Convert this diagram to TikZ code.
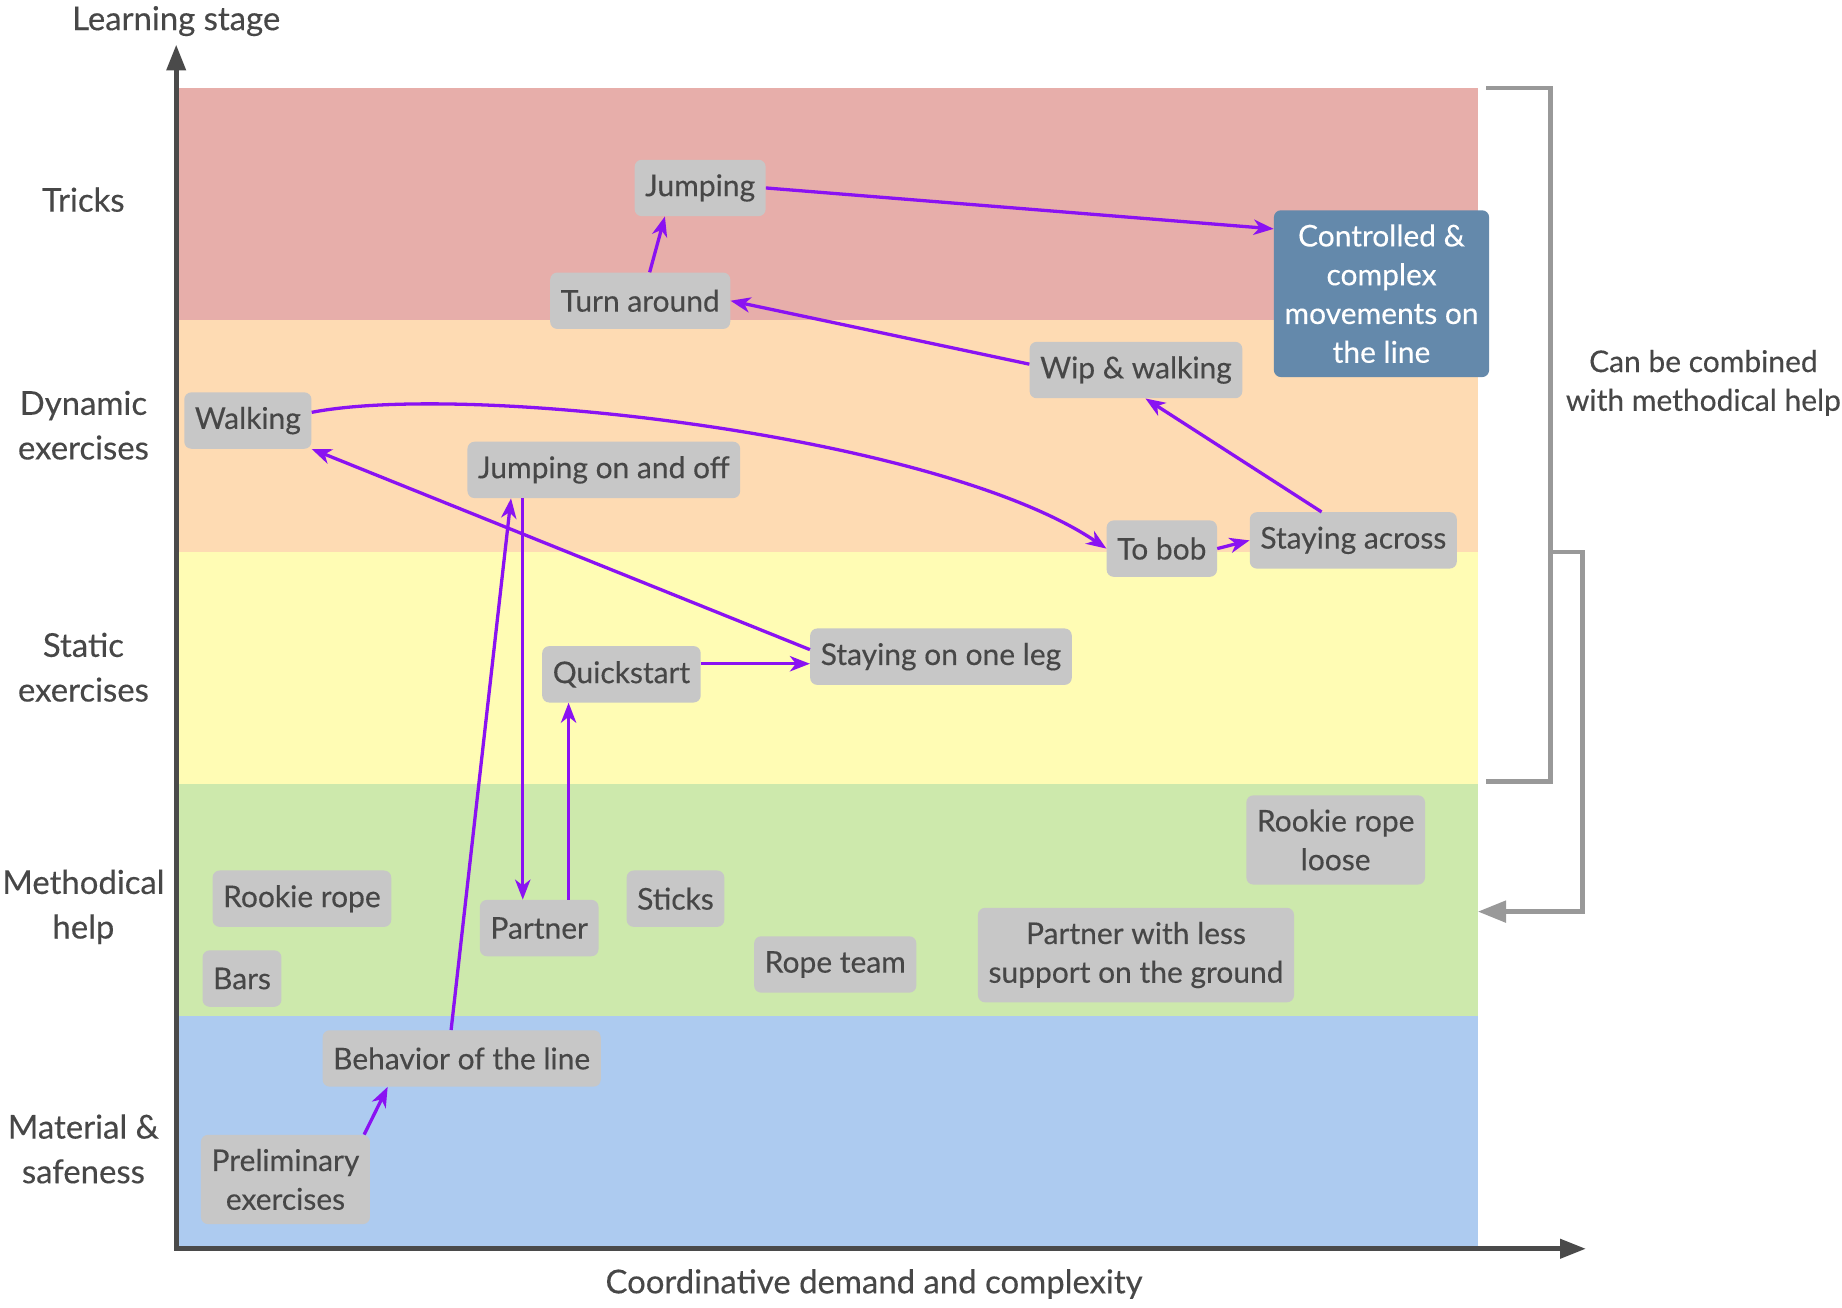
\documentclass[tikz,border=0pt]{standalone}
\usepackage{fontspec}
\setmainfont{Lato}[FakeBold=0.3]
\usetikzlibrary{arrows.meta}

\definecolor{textgray}{HTML}{474747}
\definecolor{boxgray}{HTML}{C7C7C7}
\definecolor{goalblue}{HTML}{6489AB}
\definecolor{flowpurple}{HTML}{8A12F2}
\definecolor{axisgray}{HTML}{4A4A4A}
\definecolor{bracketgray}{HTML}{999999}
\definecolor{bandred}{HTML}{E7AEAA}
\definecolor{bandpeach}{HTML}{FEDBB3}
\definecolor{bandyellow}{HTML}{FFFCB4}
\definecolor{bandgreen}{HTML}{CDE9AC}
\definecolor{bandblue}{HTML}{ADCBF0}

\begin{document}
\begin{tikzpicture}[x=1pt, y=-1pt,
            every node/.style={text=textgray, font=\fontsize{25.5}{33}\selectfont},
            stage/.style={fill=boxgray, rounded corners=6pt, align=center,
                          minimum height=48pt, inner xsep=9pt, inner ysep=12pt},
            goal/.style={stage, fill=goalblue, text=white},
            band label/.style={align=center, font=\fontsize{28}{38}\selectfont},
            flow/.style={draw=flowpurple, line width=2.8pt,
                         -{Stealth[length=17pt, width=13pt, inset=5pt]}},
            axis/.style={draw=axisgray, line width=4pt,
                         {Triangle[length=22pt, width=16pt]}-{Triangle[length=22pt, width=16pt]}},
            bracket/.style={draw=bracketgray, line width=4pt}]
        \useasboundingbox (0,0) rectangle (1568,1113);

        % stage bands
        \foreach \y/\c in {75/bandred, 272/bandpeach, 470/bandyellow, 667/bandgreen, 865/bandblue}
            \fill[\c] (152,\y) rectangle +(1106,198);

        % axes
        \draw[axis] (150,38) -- (150,1063) -- (1350,1063);
        \node[font=\fontsize{28}{33}\selectfont] (ylabel) at (150,18) {Learning stage};
        \node[font=\fontsize{28}{33}\selectfont] (xlabel) at (744,1093) {Coordinative demand and complexity};

        \node[band label] (tricks) at (71,170) {Tricks};
        \node[band label] (dynamic) at (71,362) {Dynamic\\exercises};
        \node[band label] (static) at (71,568) {Static\\exercises};
        \node[band label] (help) at (71,772) {Methodical\\help};
        \node[band label] (material) at (71,978) {Material \&\\safeness};

        % bracket on the right
        \coordinate (combine) at (1320,470);
        \coordinate (helpband) at (1258,776);
        \draw[bracket] (1265,75) -- (1320,75) -- (1320,665) -- (1265,665);
        \draw[bracket, -{Triangle[length=24pt, width=18pt]}]
            (combine) -- (1347,470) -- (1347,776) -- (helpband);
        \node[align=center] (combinetext) at (1450,326) {Can be combined\\with methodical help};

        % stages
        \node[stage] (jumping) at (596,160) {Jumping};
        \node[stage] (turn) at (545,256) {Turn around};
        \node[goal] (controlled) at (1176,250) {Controlled \&\\complex\\movements on\\the line};
        \node[stage] (wip) at (967,315) {Wip \& walking};
        \node[stage] (walk) at (211,358) {Walking};
        \node[stage] (jof) at (514,400) {Jumping on and off};
        \node[stage] (tobob) at (989,467) {To bob};
        \node[stage] (across) at (1152,460) {Staying across};
        \node[stage] (quick) at (529,574) {Quickstart};
        \node[stage] (leg) at (801,559) {Staying on one leg};
        \node[stage] (rookie) at (257,765) {Rookie rope};
        \node[stage] (partner) at (459,790) {Partner};
        \node[stage] (sticks) at (575,765) {Sticks};
        \node[stage] (loose) at (1137,715) {Rookie rope\\loose};
        \node[stage] (bars) at (206,833) {Bars};
        \node[stage] (ropeteam) at (711,821) {Rope team};
        \node[stage] (lesssupport) at (967,813) {Partner with less\\support on the ground};
        \node[stage] (behavior) at (393,901) {Behavior of the line};
        \node[stage] (prelim) at (243,1004) {Preliminary\\exercises};

        % progressions
        \draw[flow] (jumping.east) -- (controlled.149);
        \draw[flow] ([xshift=8pt]turn.north) -- ([xshift=-30pt]jumping.south);
        \draw[flow] ([yshift=5pt]wip.west) -- (turn.east);
        \draw[flow] ([xshift=-27pt]across.north) -- ([xshift=8pt]wip.south);
        \draw[flow] ([yshift=7pt]walk.east) .. controls +(135,-26) and +(-142,-96) .. (tobob.west);
        \draw[flow] (tobob.east) -- (across.west);
        \draw[flow] ([yshift=6pt]leg.west) -- (walk.south east);
        \draw[flow] ([yshift=9pt]quick.east) -- ([yshift=-6pt]leg.west);
        \draw[flow] ([xshift=-69pt]jof.south) -- ([xshift=-14pt]partner.north);
        \draw[flow] ([xshift=25pt]partner.north) -- ([xshift=-45pt]quick.south);
        \draw[flow] ([xshift=-9pt]behavior.north) -- ([xshift=-79pt]jof.south);
        \draw[flow] ([xshift=67pt]prelim.north) -- ([xshift=-63pt]behavior.south);
\end{tikzpicture}
\end{document}
